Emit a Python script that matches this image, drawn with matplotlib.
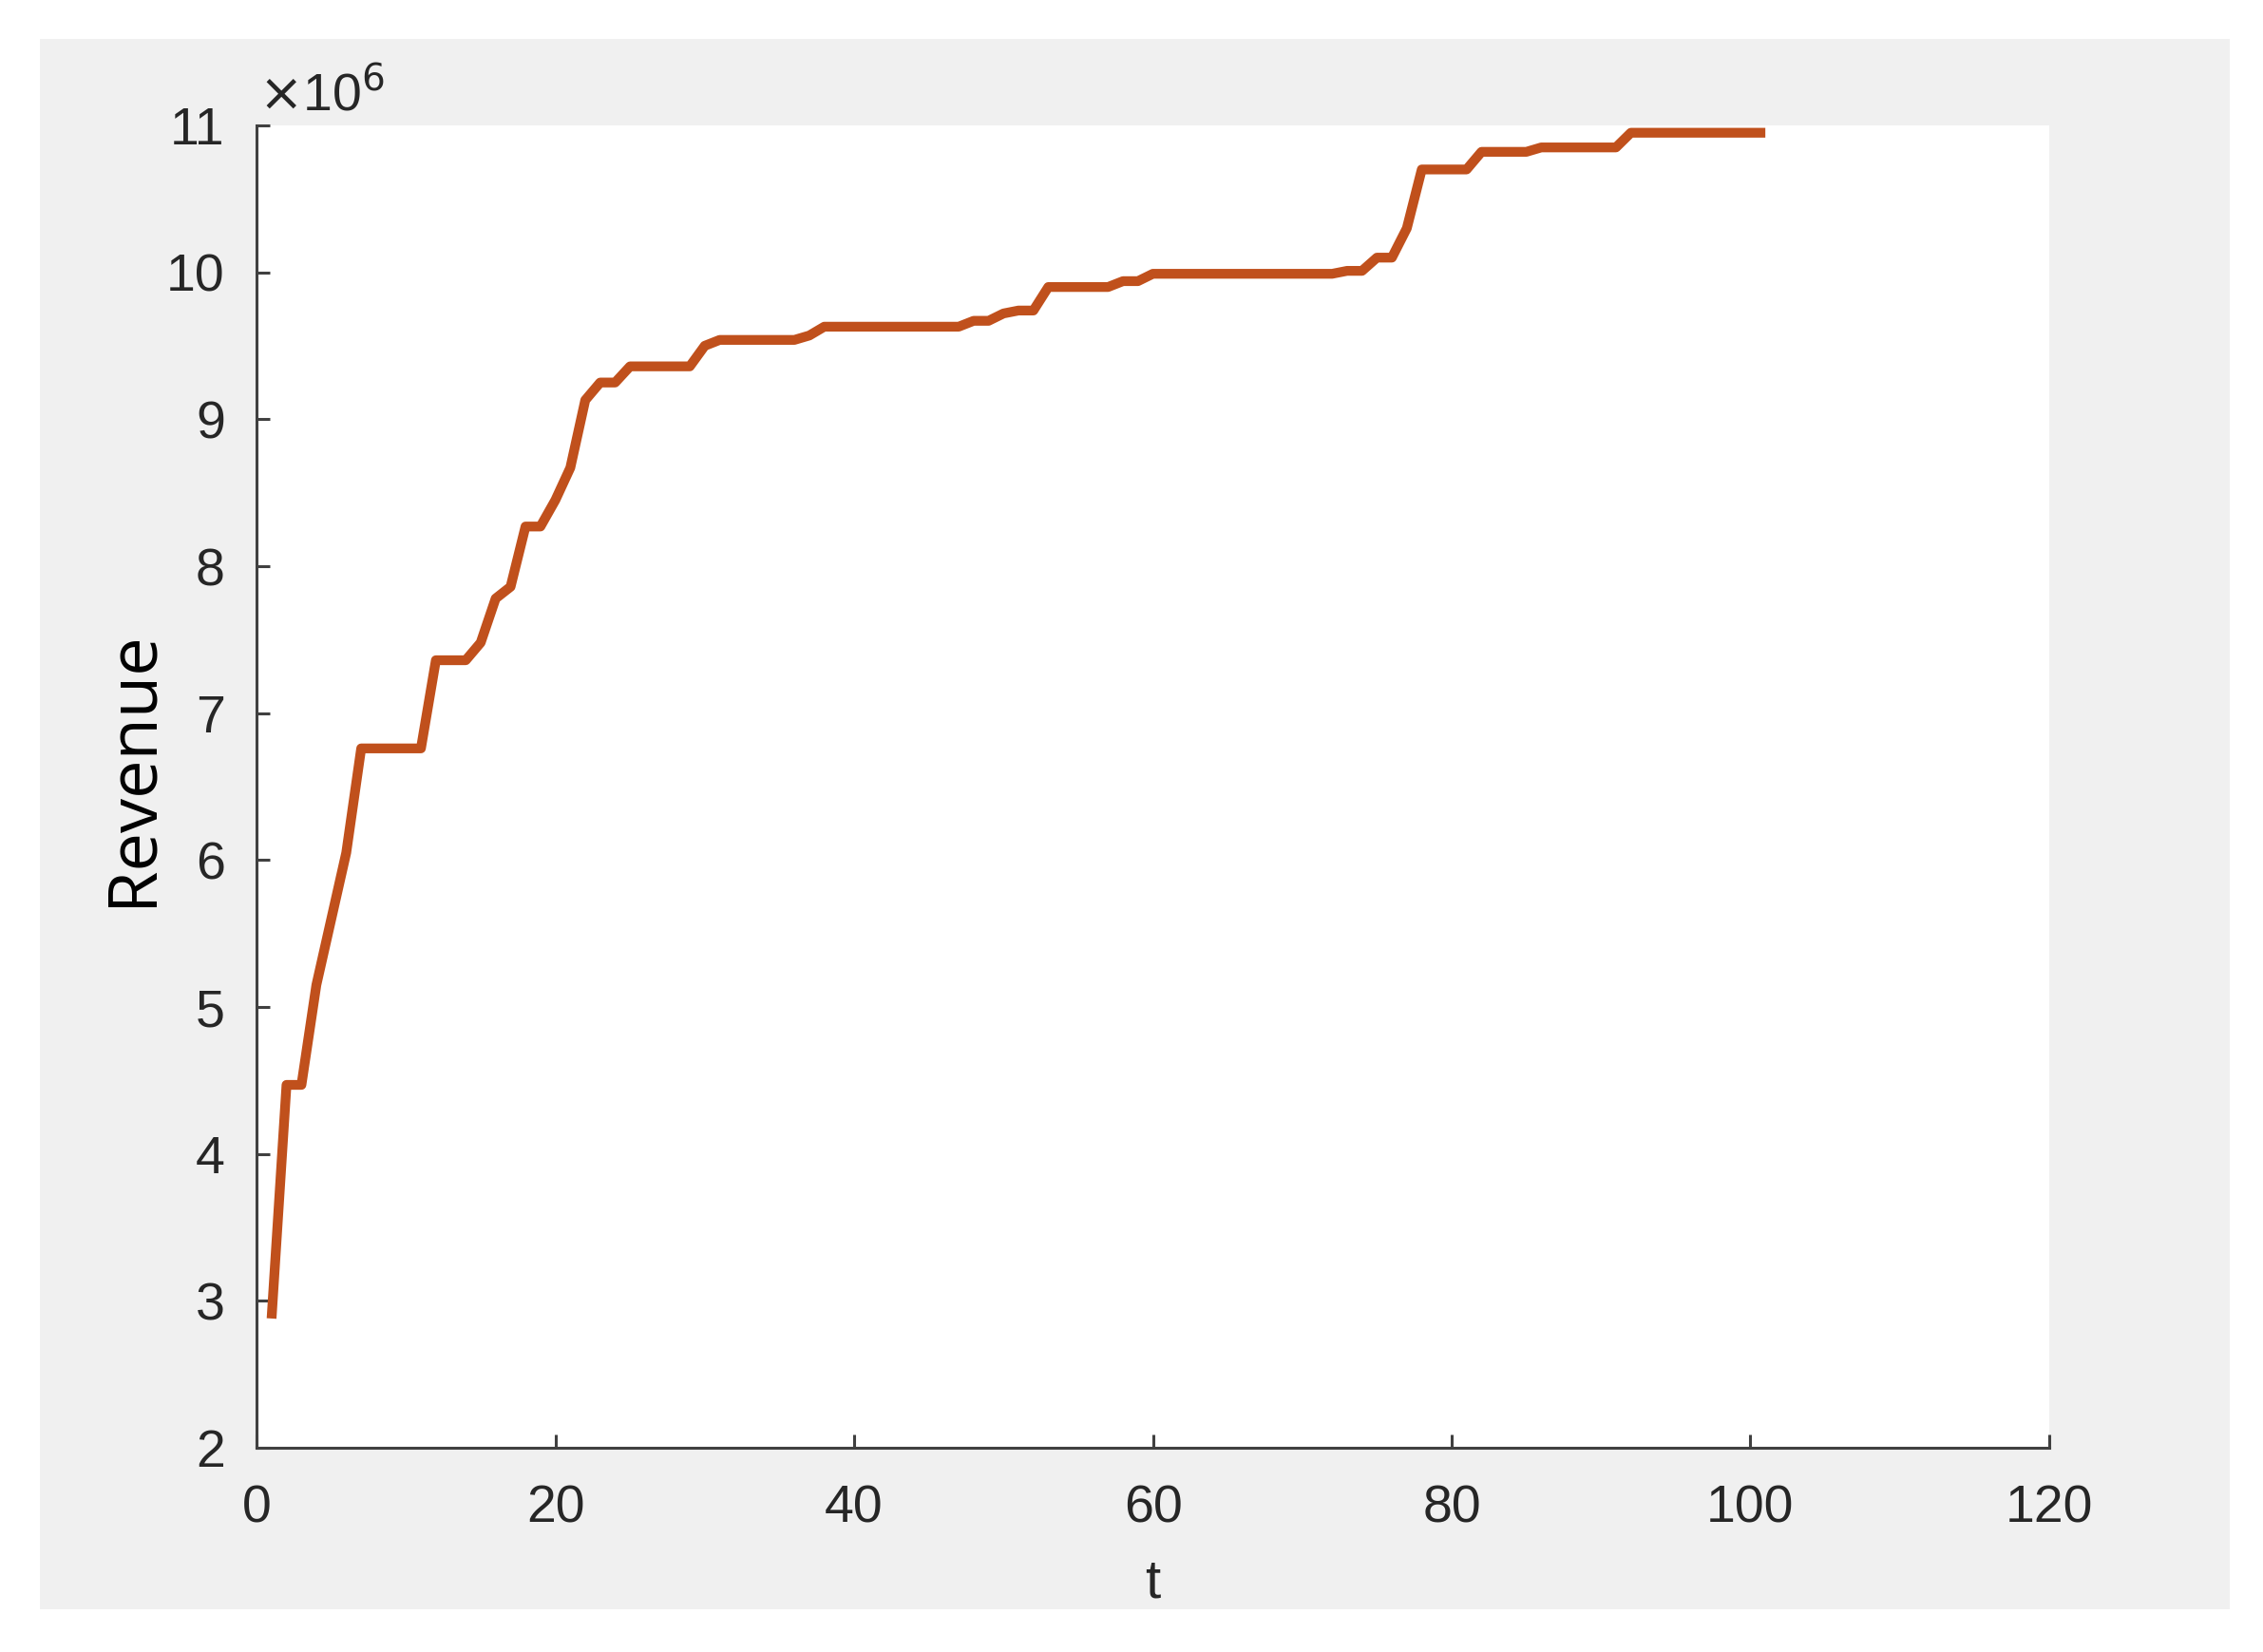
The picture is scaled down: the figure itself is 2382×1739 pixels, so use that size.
import matplotlib
matplotlib.use("Agg")
import matplotlib.pyplot as plt
import numpy as np
from matplotlib.patches import Rectangle

# revenue per step t = 1..101 (units of 1e6)
revenue_m = [
    2.88, 4.47, 4.47, 5.15, 5.60, 6.05, 6.76, 6.76, 6.76, 6.76,
    6.76, 7.36, 7.36, 7.36, 7.48, 7.78, 7.86, 8.27, 8.27, 8.45,
    8.67, 9.13, 9.25, 9.25, 9.36, 9.36, 9.36, 9.36, 9.36, 9.50,
    9.54, 9.54, 9.54, 9.54, 9.54, 9.54, 9.57, 9.63, 9.63, 9.63,
    9.63, 9.63, 9.63, 9.63, 9.63, 9.63, 9.63, 9.67, 9.67, 9.72,
    9.74, 9.74, 9.90, 9.90, 9.90, 9.90, 9.90, 9.94, 9.94, 9.99,
    9.99, 9.99, 9.99, 9.99, 9.99, 9.99, 9.99, 9.99, 9.99, 9.99,
    9.99, 9.99, 10.01, 10.01, 10.10, 10.10, 10.30, 10.70, 10.70, 10.70,
    10.70, 10.82, 10.82, 10.82, 10.82, 10.85, 10.85, 10.85, 10.85, 10.85,
    10.85, 10.95, 10.95, 10.95, 10.95, 10.95, 10.95, 10.95, 10.95, 10.95,
    10.95,
]
t = np.arange(1, len(revenue_m) + 1)

xticks = [0, 20, 40, 60, 80, 100, 120]
yticks = list(range(2, 12))

fig = plt.figure(figsize=(11.91, 8.695), dpi=200, facecolor="white")
# grey matlab style figure panel
fig.patches.append(Rectangle((0.0178, 0.0259), 0.9675, 0.9505, transform=fig.transFigure,
                             facecolor="#f0f0f0", edgecolor="none", zorder=-10))

ax = fig.add_axes([0.1134, 0.1236, 0.7921, 0.8005])
ax.set_facecolor("white")
ax.plot(t, revenue_m, color="#c0501c", linewidth=3.7, solid_joinstyle="round",
        solid_capstyle="butt")

ax.set_xlim(0, 120)
ax.set_ylim(2, 11)
ax.set_xticks(xticks)
ax.set_yticks(yticks)

for side in ["top", "right"]:
    ax.spines[side].set_visible(False)
for side in ["left", "bottom"]:
    ax.spines[side].set_color("#404040")
    ax.spines[side].set_linewidth(1.1)

ax.tick_params(direction="in", length=5, width=1.1, colors="#404040",
               labelcolor="#262626", labelsize=20)
ax.tick_params(axis="y", pad=12)
ax.tick_params(axis="x", pad=14)
for lab in ax.get_xticklabels() + ax.get_yticklabels():
    lab.set_family("Liberation Sans")

# exponent label, matlab style
ax.text(0.001, 1.011, r"$\times$10$^{6}$", transform=ax.transAxes, ha="left", va="baseline",
        fontsize=20, color="#262626", family="Liberation Sans")

ax.set_xlabel("t", fontsize=21, family="Liberation Sans", color="#262626", va="center")
ax.xaxis.set_label_coords(0.5, -0.102)
ax.set_ylabel("Revenue", fontsize=26, family="Open Sans", color="black", va="center")
ax.yaxis.set_label_coords(-0.069, 0.514)

fig.savefig("out.png", dpi=200, facecolor=fig.get_facecolor())
